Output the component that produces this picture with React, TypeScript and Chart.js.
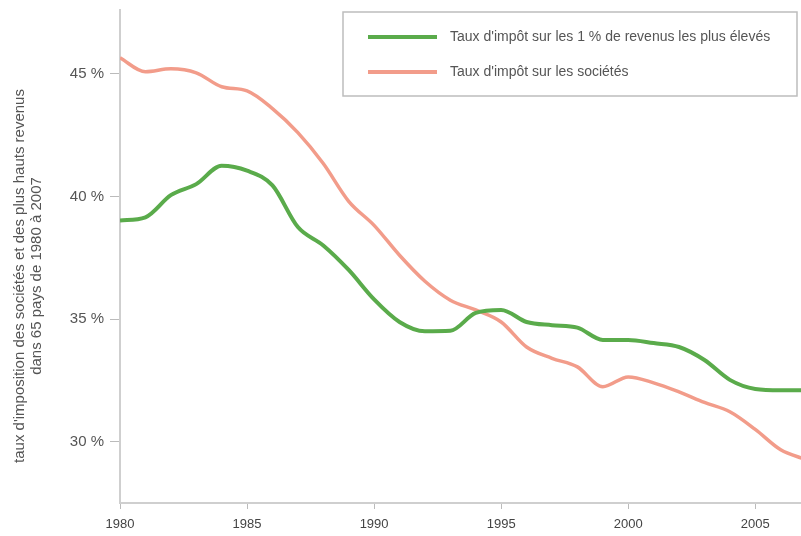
import React, { useEffect, useRef } from "react";
import { Chart, registerables } from "chart.js";

Chart.register(...registerables);

const years = [1980, 1981, 1982, 1983, 1984, 1985, 1986, 1987, 1988, 1989, 1990, 1991, 1992, 1993, 1994, 1995, 1996, 1997, 1998, 1999, 2000, 2001, 2002, 2003, 2004, 2005, 2006, 2007];
const topIncomeRate = [39.02, 39.15, 40.05, 40.5, 41.25, 41.05, 40.45, 38.75, 38.0, 37.0, 35.8, 34.88, 34.5, 34.52, 35.25, 35.37, 34.88, 34.75, 34.65, 34.15, 34.15, 34.02, 33.86, 33.33, 32.52, 32.15, 32.1, 32.1];
const corporateRate = [45.65, 45.08, 45.2, 45.04, 44.47, 44.3, 43.58, 42.6, 41.34, 39.8, 38.82, 37.6, 36.54, 35.77, 35.37, 34.88, 33.86, 33.4, 33.05, 32.24, 32.64, 32.4, 32.03, 31.6, 31.22, 30.5, 29.67, 29.27];
const seriesLabels = ["Taux d'impôt sur les 1 % de revenus les plus élevés", "Taux d'impôt sur les sociétés"];
const yTicks = [30, 35, 40, 45];
const xTicks = [1980, 1985, 1990, 1995, 2000, 2005];
const yTitle = ["taux d'imposition des sociétés et des plus hauts revenus", "dans 65 pays de 1980 à 2007"];

const GREEN = "#5aab4b";
const SALMON = "#f29c8a";
const FONT = "'Liberation Sans', Arial, sans-serif";

const legendPlugin = {
  id: "boxLegend",
  afterDraw(chart: any) {
    const ctx = chart.ctx;
    ctx.save();
    ctx.fillStyle = "#ffffff";
    ctx.fillRect(343, 12, 454, 84);
    ctx.strokeStyle = "#bdbdbd";
    ctx.lineWidth = 1.5;
    ctx.strokeRect(343, 12, 454, 84);
    const ds = chart.data.datasets;
    const ys = [37, 72];
    ds.forEach((d: any, i: number) => {
      ctx.strokeStyle = d.borderColor;
      ctx.lineWidth = 4;
      ctx.beginPath();
      ctx.moveTo(368, ys[i]);
      ctx.lineTo(437, ys[i]);
      ctx.stroke();
      ctx.fillStyle = "#555";
      ctx.font = "14px " + FONT;
      ctx.textBaseline = "middle";
      ctx.textAlign = "left";
      ctx.fillText(d.label, 450, ys[i]);
    });
    // y axis title
    ctx.translate(0, 276);
    ctx.rotate(-Math.PI / 2);
    ctx.fillStyle = "#555";
    ctx.font = "15px " + FONT;
    ctx.textAlign = "center";
    ctx.textBaseline = "middle";
    ctx.fillText(yTitle[0], 0, 20);
    ctx.fillText(yTitle[1], 0, 37);
    ctx.restore();
  },
};

export default function App() {
  const ref = useRef<HTMLCanvasElement | null>(null);
  useEffect(() => {
    if (!ref.current) return;
    const chart = new Chart(ref.current, {
      type: "line",
      data: {
        labels: years,
        datasets: [
          {
            label: seriesLabels[0],
            data: years.map((y, i) => ({ x: y, y: topIncomeRate[i] })),
            borderColor: GREEN,
            backgroundColor: GREEN,
            borderWidth: 4,
            pointRadius: 0,
            cubicInterpolationMode: "monotone",
          },
          {
            label: seriesLabels[1],
            data: years.map((y, i) => ({ x: y, y: corporateRate[i] })),
            borderColor: SALMON,
            backgroundColor: SALMON,
            borderWidth: 3.5,
            pointRadius: 0,
            cubicInterpolationMode: "monotone",
          },
        ],
      },
      options: {
        animation: false,
        responsive: false,
        maintainAspectRatio: false,
        layout: { padding: { top: 10, right: 0, left: 0, bottom: 0 } },
        plugins: { legend: { display: false }, tooltip: { enabled: false } },
        scales: {
          x: {
            type: "linear",
            min: 1980,
            max: 2006.8,
            border: { color: "#cfcfcf", width: 2 },
            grid: { drawOnChartArea: false, drawTicks: true, tickLength: 6, color: "#bbb" },
            afterBuildTicks: (scale: any) => {
              scale.ticks = xTicks.map((v) => ({ value: v }));
            },
            ticks: {
              includeBounds: false,
              autoSkip: false,
              maxRotation: 0,
              color: "#444",
              font: { family: FONT, size: 13 },
              padding: 8,
              callback: (v: any) => String(v),
            },
            afterFit: (scale: any) => {
              scale.height = 33;
              scale.paddingLeft = 0;
              scale.paddingRight = 0;
            },
          },
          y: {
            min: 27.5,
            max: 47.6,
            border: { color: "#cfcfcf", width: 2 },
            grid: { drawOnChartArea: false, drawTicks: true, tickLength: 10, color: "#bbb" },
            afterBuildTicks: (scale: any) => {
              scale.ticks = yTicks.map((v) => ({ value: v }));
            },
            ticks: {
              includeBounds: false,
              color: "#555",
              font: { family: FONT, size: 15 },
              padding: 6,
              callback: (v: any) => v + " %",
            },
            afterFit: (scale: any) => {
              scale.width = 120;
              scale.paddingTop = 0;
              scale.paddingBottom = 0;
            },
          },
        },
      },
      plugins: [legendPlugin],
    } as any);
    return () => chart.destroy();
  }, []);
  return (
    <div style={{ position: "fixed", left: 0, top: 0, width: 801, height: 536, background: "#fff" }}>
      <canvas ref={ref} width={801} height={536} style={{ width: 801, height: 536 }} />
    </div>
  );
}
